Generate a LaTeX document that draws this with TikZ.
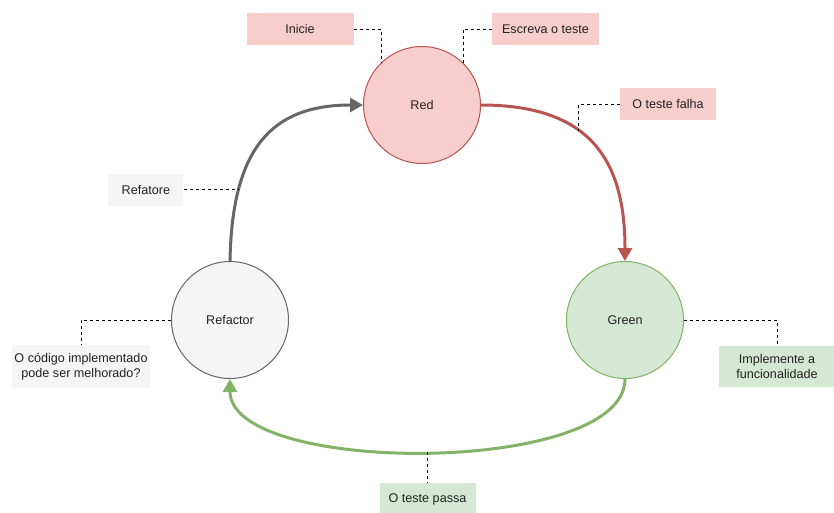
\documentclass[tikz,border=0pt]{standalone}
\usepackage{fontspec}
\setmainfont{Liberation Sans}
\usetikzlibrary{arrows.meta,positioning}
\definecolor{redfill}{HTML}{F8CECC}
\definecolor{redline}{HTML}{B85450}
\definecolor{greenfill}{HTML}{D5E8D4}
\definecolor{greenline}{HTML}{82B366}
\definecolor{grayfill}{HTML}{F5F5F5}
\definecolor{grayline}{HTML}{666666}
\definecolor{txt}{HTML}{222222}

\begin{document}
\begin{tikzpicture}[x=1pt,y=-1pt,font=\fontsize{12.6pt}{14.5pt}\selectfont,text=txt]
\tikzset{phase/.style={circle, draw, line width=1pt, minimum size=117pt, inner sep=0pt}}
\tikzset{note/.style={inner sep=0pt, minimum height=32pt, align=center}}
\tikzset{leader/.style={draw=black, line width=0.8pt, dash pattern=on 3pt off 3pt}}
\tikzset{flow/.style={line width=3pt, -{Triangle[length=13pt,width=14pt]}}}
\useasboundingbox (0,0) rectangle (834,512);

% the three phases
\node[phase, fill=redfill, draw=redline] (red) at (422,105) {Red};
\node[phase, fill=greenfill, draw=greenline] (green) at (625,320) {Green};
\node[phase, fill=grayfill, draw=grayline] (refactor) at (230,320) {Refactor};

% cycle
\draw[flow, draw=redline] (red.east) .. controls (590,105) and (625,160) .. (green.north) coordinate[pos=0.4] (failpt);
\draw[flow, draw=greenline] (green.south) .. controls (625,476) and (230,476) .. (refactor.south) coordinate[pos=0.5] (passpt);
\draw[flow, draw=grayline] (refactor.north) .. controls (232,150) and (270,105) .. (red.west) coordinate[pos=0.25] (refpt);

% notes
\node[note, fill=redfill, minimum width=107pt] (inicie) at (300,29) {Inicie};
\node[note, fill=redfill, minimum width=107pt] (escreva) at (545.5,29) {Escreva o teste};
\node[note, fill=redfill, minimum width=96pt] (falha) at (668,104) {O teste falha};
\node[note, fill=grayfill, minimum width=75pt, left=55pt of refpt] (refatore) {Refatore};
\node[note, fill=grayfill, minimum width=138pt, minimum height=43pt] (codigo) at (81,366.5) {O código implementado\\pode ser melhorado?};
\node[note, fill=greenfill, minimum width=117pt, minimum height=41pt] (implemente) at (777,366.5) {Implemente a\\funcionalidade};
\node[note, fill=greenfill, minimum width=96pt, below=31pt of passpt] (passa) {O teste passa};

% leaders
\draw[leader] (inicie.east) -| (red.134);
\draw[leader] (escreva.west) -| (red.46);
\draw[leader] (falha.west) -| (failpt);
\draw[leader] (refatore.east) -- (refpt);
\draw[leader] (refactor.west) -| (codigo.north);
\draw[leader] (green.east) -| (implemente.north);
\draw[leader] (passpt) -- (passa.north);
\end{tikzpicture}
\end{document}
